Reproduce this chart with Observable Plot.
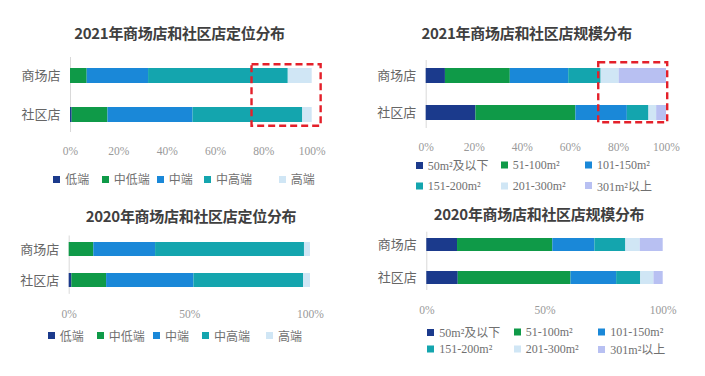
<!DOCTYPE html>
<html><head><meta charset="utf-8">
<script src="https://cdn.jsdelivr.net/npm/d3@7"></script>
<script src="https://cdn.jsdelivr.net/npm/@observablehq/plot@0.6"></script>
<style>
body{margin:0;background:#fff;}
#root{position:relative;width:705px;height:376px;overflow:hidden;font-family:"Noto Sans CJK SC",sans-serif;background:#fff;}
.panel{position:absolute;}
.title{position:absolute;font-weight:bold;font-size:15px;color:#3f3f3f;white-space:nowrap;transform:translate(-50%,-50%);letter-spacing:-0.3px;}
.li{position:absolute;display:flex;align-items:center;transform:translateY(-50%);font-size:12px;color:#707070;white-space:nowrap;font-family:"Liberation Serif","Noto Sans CJK SC",serif;}
.sw{width:7px;height:7px;margin-right:5px;}
</style></head><body><div id="root"></div><script>
// ---- data ----
const stores = ["商场店", "社区店"];
const tiers = ["低端", "中低端", "中端", "中高端", "高端"];
const sizes = ["50m²及以下", "51-100m²", "101-150m²", "151-200m²", "201-300m²", "301m²以上"];
const titles = ["2021年商场店和社区店定位分布", "2021年商场店和社区店规模分布", "2020年商场店和社区店定位分布", "2020年商场店和社区店规模分布"];
// tier shares (%) per store
const tier2021Mall = [0, 6.9, 25.4, 57.8, 9.9];
const tier2021Community = [0.7, 14.8, 35.2, 45.4, 3.9];
const tier2020Mall = [0, 10.2, 25.6, 61.7, 2.5];
const tier2020Community = [1.1, 14.4, 36.2, 45.4, 2.9];
// size shares (%) per store
const size2021Mall = [8.0, 27.0, 24.3, 13.5, 7.5, 19.7];
const size2021Community = [20.7, 41.6, 21.4, 9.0, 3.2, 4.1];
const size2020Mall = [13.0, 40.3, 17.8, 13.1, 6.1, 9.7];
const size2020Community = [13.3, 47.7, 19.3, 10.2, 5.6, 3.9];
// tick labels
const ticks2021 = [0, 20, 40, 60, 80, 100];
const ticks2020 = [0, 50, 100];
// highlighted range (red dashed box) in %
const highlight2021Tier = [{x1: 75.1, x2: 103.7}];
const highlight2021Size = [{x1: 71.8, x2: 100.5}];

const colors = ["#1b3a8c", "#0f9a48", "#1a88d8", "#14a5ae", "#d0e6f5", "#b8c0f2"];

// ---- layout ----
const panels = [
  {title: titles[0], cats: tiers, rows: [tier2021Mall, tier2021Community], ticks: ticks2021, box: highlight2021Tier,
   left: 0, top: 40, width: 345, height: 125, mt: 17, mb: 33, ml: 70, mr: 33.3, pi: 0.618, po: 0.263, tp: 14, boxIn: [7.3, 6.3],
   titleXY: [179.5, 32], legend: {xs: [53.3, 101.7, 156.7, 204, 278.7], ys: [179], cols: 5}},
  {title: titles[1], cats: sizes, rows: [size2021Mall, size2021Community], ticks: ticks2021, box: highlight2021Size,
   left: 350, top: 40, width: 355, height: 125, mt: 20, mb: 37, ml: 75.7, mr: 39, pi: 0.601, po: 0.205, tp: 14.8, boxIn: [2.3, 5.7],
   titleXY: [526.7, 32], legend: {xs: [415.7, 500.7, 585], ys: [165.3, 185.5], cols: 3}},
  {title: titles[2], cats: tiers, rows: [tier2020Mall, tier2020Community], ticks: ticks2020, box: null,
   left: 0, top: 215, width: 345, height: 110, mt: 20.5, mb: 31.1, ml: 68.7, mr: 35, pi: 0.56, po: 0.213, tp: 15.2,
   titleXY: [191, 215], legend: {xs: [47.7, 96.7, 153, 202, 266], ys: [335.7], cols: 5}},
  {title: titles[3], cats: sizes, rows: [size2020Mall, size2020Community], ticks: ticks2020, box: null,
   left: 350, top: 215, width: 355, height: 110, mt: 16.7, mb: 35, ml: 76.3, mr: 42.3, pi: 0.6, po: 0.173, tp: 15,
   titleXY: [539, 213], legend: {xs: [427.3, 513.7, 598.3], ys: [332.2, 349.3], cols: 3}}
];

const root = document.getElementById("root");

for (const p of panels) {
  const data = [];
  p.rows.forEach((vals, i) => vals.forEach((v, j) => data.push({store: stores[i], cat: p.cats[j], value: v})));
  const marks = [
    Plot.ruleX([0], {stroke: "#d9d9d9", strokeWidth: 1}),
    Plot.barX(data, {x: "value", y: "store", fill: "cat"}),
    Plot.axisX({ticks: p.ticks, tickFormat: d => d + "%", tickSize: 0, tickPadding: p.tp,
      fontFamily: "Liberation Serif", fontSize: 11.5, fill: "#999999", label: null}),
    Plot.axisY({tickSize: 0, tickPadding: 10, fontFamily: "Noto Sans CJK SC", fontSize: 13, fill: "#666666", label: null})
  ];
  if (p.box) {
    marks.push(Plot.rect(p.box, {x1: "x1", x2: "x2", fill: "none", stroke: "#e4202a", strokeWidth: 2.4,
      strokeDasharray: "7,4", insetTop: p.boxIn[0], insetBottom: p.boxIn[1]}));
  }
  const svg = Plot.plot({
    width: p.width, height: p.height,
    marginTop: p.mt, marginBottom: p.mb, marginLeft: p.ml, marginRight: p.mr,
    style: {background: "transparent", overflow: "visible"},
    x: {domain: [0, 100], axis: null},
    y: {domain: stores, paddingInner: p.pi, paddingOuter: p.po, axis: null},
    color: {domain: p.cats, range: colors.slice(0, p.cats.length)},
    marks
  });
  svg.classList.add("panel");
  svg.style.left = p.left + "px";
  svg.style.top = p.top + "px";
  svg.style.position = "absolute";
  root.appendChild(svg);

  const t = document.createElement("div");
  t.className = "title";
  t.textContent = p.title;
  t.style.left = p.titleXY[0] + "px";
  t.style.top = p.titleXY[1] + "px";
  root.appendChild(t);

  p.cats.forEach((c, j) => {
    const li = document.createElement("div");
    li.className = "li";
    const col = j % p.legend.cols, row = Math.floor(j / p.legend.cols);
    li.style.left = p.legend.xs[col] + "px";
    li.style.top = p.legend.ys[row] + "px";
    const sw = document.createElement("span");
    sw.className = "sw";
    sw.style.background = colors[j];
    const tx = document.createElement("span");
    tx.textContent = c;
    li.appendChild(sw); li.appendChild(tx);
    root.appendChild(li);
  });
}
</script></body></html>
